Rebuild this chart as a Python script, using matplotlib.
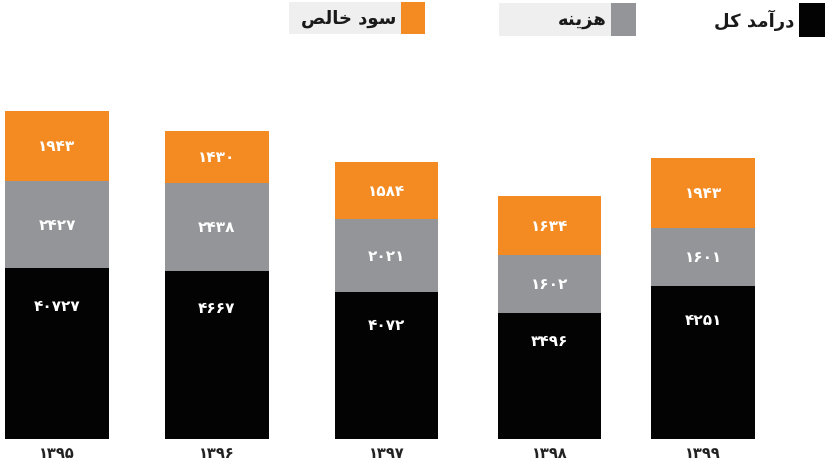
import numpy as np
import matplotlib
matplotlib.use("Agg")
import matplotlib.pyplot as plt
from matplotlib.patches import Rectangle

# ── data ──────────────────────────────────────────────────────────────────────
YEARS   = ["۱۳۹۵", "۱۳۹۶", "۱۳۹۷", "۱۳۹۸", "۱۳۹۹"]
REVENUE = [4727, 4667, 4072, 3496, 4251]      # درآمد کل
COST    = [2427, 2438, 2021, 1602, 1601]      # هزینه
PROFIT  = [1943, 1430, 1584, 1634, 1943]      # سود خالص
REV_LBL  = ["۴۰۷۲۷", "۴۶۶۷", "۴۰۷۲", "۳۴۹۶", "۴۲۵۱"]
COST_LBL = ["۲۴۲۷", "۲۴۳۸", "۲۰۲۱", "۱۶۰۲", "۱۶۰۱"]
PROF_LBL = ["۱۹۴۳", "۱۴۳۰", "۱۵۸۴", "۱۶۳۴", "۱۹۴۳"]

# legend labels, pre-shaped (presentation forms, visual order)
LEG_REV    = "\uFEDE\uFB90 \uFEAA\uFEE3\uFE81\uFEAD\uFEA9"          # درآمد کل
LEG_COST   = "\uFEEA\uFEE8\uFBFE\uFEB0\uFEEB"                        # هزینه
LEG_PROFIT = "\uFEBA\uFEDF\uFE8E\uFEA7 \uFEA9\uFEEE\uFEB3"           # سود خالص

# ── style ─────────────────────────────────────────────────────────────────────
C_REV, C_COST, C_PROFIT = "#030303", "#939598", "#F48B22"
C_BOX = "#EFEFEF"
X_POS = [0, 0.99, 2.04, 3.05, 4.0]
W = 0.64

W_PX, H_PX = 825, 464
fig = plt.figure(figsize=(W_PX / 100, H_PX / 100), dpi=100)
ax = fig.add_axes([0, (H_PX - 440) / H_PX, 1, 340 / H_PX])

rev = np.array(REVENUE); cost = np.array(COST); prof = np.array(PROFIT)
ax.bar(X_POS, rev, W, color=C_REV)
ax.bar(X_POS, cost, W, bottom=rev, color=C_COST)
ax.bar(X_POS, prof, W, bottom=rev + cost, color=C_PROFIT)

lbl_kw = dict(color="white", fontsize=11, fontweight="bold",
              ha="center", va="center", family="DejaVu Sans")
for i, x in enumerate(X_POS):
    ax.text(x, rev[i] * 0.78, REV_LBL[i], **lbl_kw)
    ax.text(x, rev[i] + cost[i] / 2, COST_LBL[i], **lbl_kw)
    ax.text(x, rev[i] + cost[i] + prof[i] / 2, PROF_LBL[i], **lbl_kw)

ax.set_xlim(-0.353, 4.755)
ax.set_ylim(0, 9420)
ax.set_xticks(X_POS)
ax.set_xticklabels(YEARS, fontsize=10.5, fontweight="bold", color="#222222",
                   va="center")
ax.tick_params(axis="x", length=0, pad=10)
ax.set_yticks([])
for s in ax.spines.values():
    s.set_visible(False)

# ── legend (top) ──────────────────────────────────────────────────────────────
def px_rect(x0, y0, x1, y1, color):
    fig.patches.append(Rectangle((x0 / W_PX, 1 - y1 / H_PX),
                                 (x1 - x0) / W_PX, (y1 - y0) / H_PX,
                                 transform=fig.transFigure, color=color, lw=0))

def px_text(x, y, s):
    fig.text(x / W_PX, 1 - y / H_PX, s, ha="right", va="center",
             fontsize=13, fontweight="bold", color="#1a1a1a", family="DejaVu Sans")

px_rect(289, 3, 425, 35, C_BOX);  px_rect(401, 3, 425, 35, C_PROFIT)
px_text(396, 19, LEG_PROFIT)
px_rect(499, 4, 636, 37, C_BOX);  px_rect(611, 4, 636, 37, C_COST)
px_text(607, 20, LEG_COST)
px_rect(799, 4, 825, 38, C_REV)
px_text(794, 20, LEG_REV)

fig.savefig("out.png", dpi=100)
